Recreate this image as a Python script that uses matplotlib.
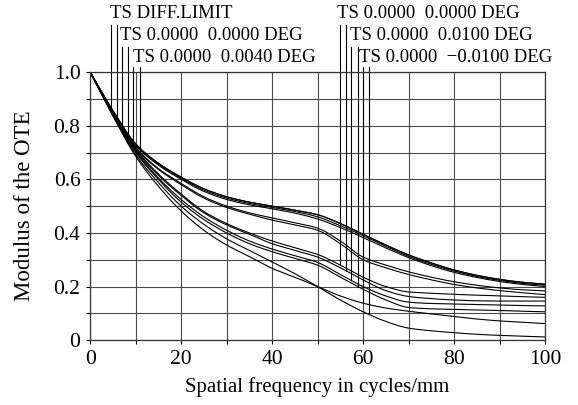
import numpy as np
import matplotlib
matplotlib.use("Agg")
import matplotlib.pyplot as plt

plt.rcParams['font.family'] = ['Liberation Serif', 'DejaVu Serif']
plt.rcParams['axes.unicode_minus'] = True

# spatial frequency sample points (cycles/mm)
freq = [0, 5, 10, 15, 20, 25, 30, 35, 40, 45, 50, 55, 60, 65, 70, 75, 80, 85, 90, 95, 100]

# MTF curves (tangential / sagittal)
diff_t = [1, .856, .732, .660, .608, .565, .535, .515, .500, .485, .468, .435, .395, .355, .318, .288, .262, .242, .227, .216, .209]
diff_s = [1, .856, .732, .660, .608, .565, .535, .515, .500, .485, .468, .435, .395, .355, .318, .288, .262, .242, .227, .216, .209]
f0_t = [1, .855, .730, .657, .604, .560, .530, .510, .495, .480, .460, .427, .390, .350, .313, .283, .258, .238, .223, .212, .205]
f0_s = [1, .853, .727, .653, .600, .555, .525, .505, .490, .474, .452, .420, .383, .344, .308, .278, .253, .234, .219, .208, .200]
f4_t = [1, .850, .720, .640, .585, .535, .500, .475, .456, .438, .418, .370, .310, .280, .255, .235, .218, .205, .195, .188, .184]
f4_s = [1, .849, .718, .637, .580, .530, .495, .470, .448, .430, .410, .360, .300, .270, .245, .225, .208, .195, .185, .177, .170]
g0_t = [1, .845, .715, .620, .545, .480, .435, .400, .370, .345, .320, .280, .235, .200, .180, .175, .171, .168, .165, .162, .160]
g0_s = [1, .843, .710, .615, .540, .475, .430, .395, .360, .335, .310, .270, .225, .185, .163, .155, .150, .147, .146, .146, .146]
gp_t = [1, .842, .705, .605, .525, .460, .410, .370, .340, .315, .290, .245, .200, .165, .142, .137, .135, .133, .131, .129, .128]
gp_s = [1, .840, .700, .600, .515, .450, .400, .360, .330, .305, .280, .235, .190, .150, .122, .117, .115, .113, .111, .108, .106]
gm_t = [1, .836, .686, .574, .482, .410, .355, .312, .268, .235, .200, .165, .138, .120, .108, .098, .088, .079, .072, .067, .062]
gm_s = [1, .838, .692, .588, .500, .432, .378, .335, .292, .248, .200, .150, .106, .070, .045, .035, .028, .022, .018, .015, .012]

curves = [diff_t, diff_s, f0_t, f0_s, f4_t, f4_s, g0_t, g0_s, gp_t, gp_s, gm_t, gm_s]

# field labels and where their leader lines sit
left_labels = ["TS DIFF.LIMIT", "TS 0.0000  0.0000 DEG", "TS 0.0000  0.0040 DEG"]
right_labels = ["TS 0.0000  0.0000 DEG", "TS 0.0000  0.0100 DEG", "TS 0.0000  \u22120.0100 DEG"]
left_leader_x = [4.6, 5.9, 7.1, 8.4, 9.5, 10.9]
right_leader_x = [55.0, 56.3, 57.4, 58.9, 60.0, 61.2]


def smooth(x, y, n=400):
    # monotone cubic (Fritsch-Carlson) so the drawn line has no kinks
    x = np.asarray(x, float)
    y = np.asarray(y, float)
    h = np.diff(x)
    d = np.diff(y) / h
    m = np.zeros_like(y)
    m[0], m[-1] = d[0], d[-1]
    for k in range(1, len(x) - 1):
        if d[k - 1] * d[k] > 0:
            w1 = 2 * h[k] + h[k - 1]
            w2 = h[k] + 2 * h[k - 1]
            m[k] = (w1 + w2) / (w1 / d[k - 1] + w2 / d[k])
    xs = np.linspace(x[0], x[-1], n)
    idx = np.clip(np.searchsorted(x, xs) - 1, 0, len(x) - 2)
    t = (xs - x[idx]) / h[idx]
    h00 = 2 * t**3 - 3 * t**2 + 1
    h10 = t**3 - 2 * t**2 + t
    h01 = -2 * t**3 + 3 * t**2
    h11 = t**3 - t**2
    ys = h00 * y[idx] + h10 * h[idx] * m[idx] + h01 * y[idx + 1] + h11 * h[idx] * m[idx + 1]
    return xs, ys


fig = plt.figure(figsize=(5.78, 4.05), dpi=100)
ax = fig.add_axes([0.156, 0.160, 0.787, 0.662])

drawn = []
for c in curves:
    xs, ys = smooth(freq, c)
    drawn.append((xs, ys))
    ax.plot(xs, ys, color='black', lw=0.8)

ax.set_xlim(0, 100)
ax.set_ylim(0, 1.0)
ax.set_xticks(np.arange(0, 101, 10))
ax.set_xticklabels(['0', '', '20', '', '40', '', '60', '', '80', '', '100'])
ax.set_yticks(np.arange(0, 1.01, 0.1))
ax.set_yticklabels(['0', '', '0.2', '', '0.4', '', '0.6', '', '0.8', '', '1.0'])
ax.tick_params(direction='out', length=3, width=0.8, labelsize=15.5, pad=4)
ax.grid(True, color='#4a4a4a', lw=0.8)
for s in ax.spines.values():
    s.set_color('#333333')
    s.set_linewidth(0.9)

ax.set_xlabel("Spatial frequency in cycles/mm", fontsize=15, labelpad=6)
ax.set_ylabel("Modulus of the OTE", fontsize=16.5, labelpad=13)

# labels above the plot with vertical leader lines down to the curves
row_y = [1.218, 1.135, 1.055]
line_top = [1.175, 1.093, 1.019]
left_text_x = [4.3, 6.6, 9.5]
right_text_x = [54.2, 57.1, 59.0]
for i in range(3):
    ax.text(left_text_x[i], row_y[i], left_labels[i], fontsize=13.5,
            ha='left', va='center', clip_on=False)
    ax.text(right_text_x[i], row_y[i], right_labels[i], fontsize=13.5,
            ha='left', va='center', clip_on=False)
    for j in (2 * i, 2 * i + 1):
        xl = left_leader_x[j]
        yl = np.interp(xl, *drawn[j])
        ax.plot([xl, xl], [yl, line_top[i]], color='black', lw=0.8, clip_on=False)
        xr = right_leader_x[j]
        yr = np.interp(xr, *drawn[6 + j])
        ax.plot([xr, xr], [yr, line_top[i]], color='black', lw=0.8, clip_on=False)

fig.savefig("out.png", dpi=100)
